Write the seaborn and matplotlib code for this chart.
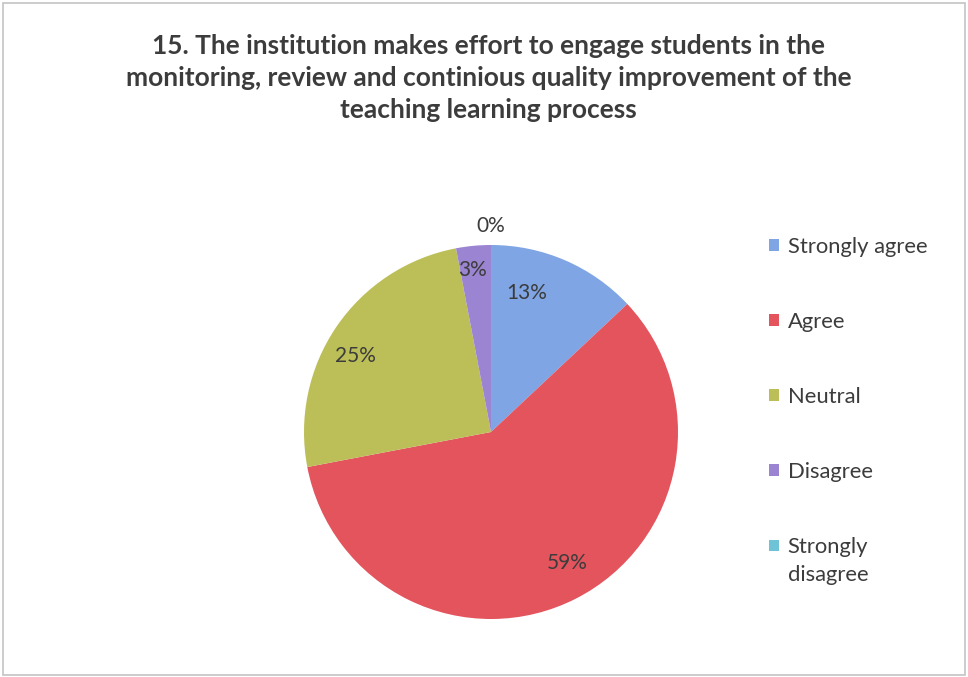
import numpy as np
import matplotlib.pyplot as plt
import seaborn as sns
from matplotlib.patches import Rectangle

# survey answers, question 15
categories = ["Strongly agree", "Agree", "Neutral", "Disagree", "Strongly\ndisagree"]
percent = [13, 59, 25, 3, 0]
pct_labels = ["13%", "59%", "25%", "3%", "0%"]

colors = ["#7fa5e4", "#e3545d", "#bcbf58", "#9b84d2", "#6ec3d6"]

sns.set_theme(style="white")
plt.rcParams['font.family'] = ['Lato', 'DejaVu Sans']
text_col = "#3c3c3c"

fig = plt.figure(figsize=(9.68, 6.77), dpi=100)
W, H = 968, 677
cx, cy, r = 491, 432, 187
ax = fig.add_axes([(cx - r) / W, (H - cy - r) / H, 2 * r / W, 2 * r / H])

wedges, _ = ax.pie(percent, colors=colors, startangle=90, counterclock=False,
                   radius=1, wedgeprops=dict(linewidth=0))
ax.set_xlim(-1, 1)
ax.set_ylim(-1, 1)
ax.set_aspect('equal')
ax.axis('off')

# label placement roughly as excel put them
lab_r = [0.77, 0.81, 0.83, 0.87, 1.1]
lab_nudge = [9, 3, 5, 1, 0]
for w, t, rr, dn in zip(wedges, pct_labels, lab_r, lab_nudge):
    ang = np.deg2rad((w.theta1 + w.theta2) / 2 + dn)
    ax.text(rr * np.cos(ang), rr * np.sin(ang), t, ha='center', va='center',
            fontsize=15, color=text_col)

fig.text(0.505, 1 - 78 / H,
         "15. The institution makes effort to engage students in the\n"
         "monitoring, review and continious quality improvement of the\n"
         "teaching learning process",
         ha='center', va='center', fontsize=19, fontweight='bold', color=text_col,
         linespacing=1.42)

leg = fig.legend(wedges, categories, loc='upper left', bbox_to_anchor=(0.783, 0.666),
                 frameon=False, fontsize=15.8, labelspacing=2.5, handlelength=0.45,
                 handleheight=0.45, handletextpad=0.4, borderpad=0, labelcolor=text_col)
# two-line entry: wider line gap, square next to first line like excel
leg.get_texts()[-1].set_linespacing(1.5)
last = leg.legend_handles[-1]
last.set_y(last.get_y() + 11)

fig.patches.append(Rectangle((3 / W, 2 / H), 962 / W, 672 / H, transform=fig.transFigure,
                             fill=False, ec="#c4c4c4", lw=1.2))

fig.savefig("out.png", dpi=100)
